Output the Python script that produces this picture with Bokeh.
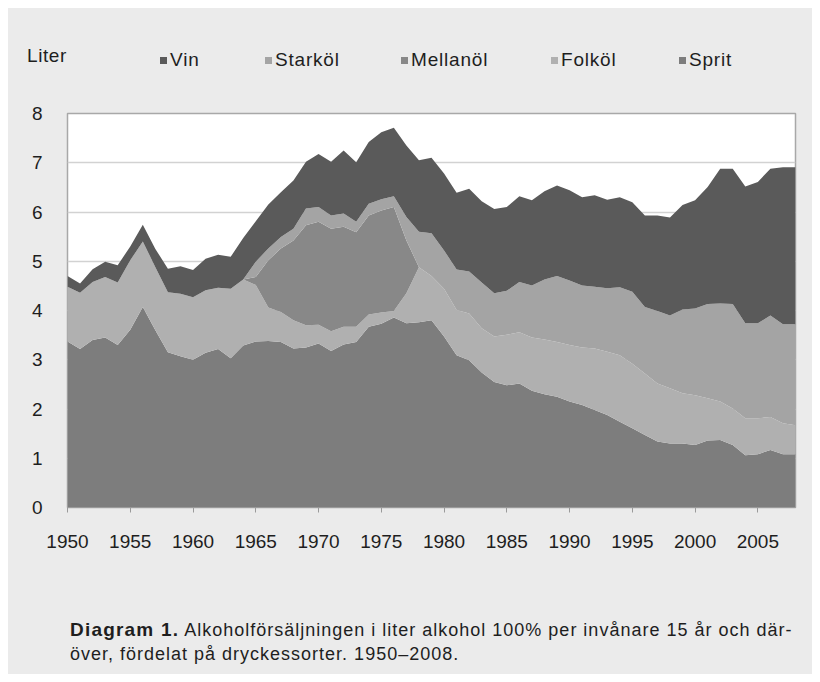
from bokeh.plotting import figure
from bokeh.models import ColumnDataSource, Range1d, FixedTicker, Div
from bokeh.layouts import column
from bokeh.embed import file_html
from bokeh.resources import INLINE

years = list(range(1950, 2009))

sprit = [3.37, 3.22, 3.40, 3.45, 3.30, 3.61, 4.07, 3.60, 3.15, 3.07,
         3.00, 3.14, 3.22, 3.03, 3.29, 3.37, 3.38, 3.36, 3.23, 3.25,
         3.33, 3.18, 3.31, 3.36, 3.67, 3.73, 3.86, 3.74, 3.76, 3.80,
         3.47, 3.09, 2.99, 2.74, 2.55, 2.48, 2.52, 2.37, 2.30, 2.25,
         2.15, 2.08, 1.98, 1.88, 1.74, 1.61, 1.47, 1.34, 1.30, 1.30,
         1.27, 1.36, 1.37, 1.27, 1.06, 1.08, 1.17, 1.08, 1.08]
folkol = [1.11, 1.14, 1.18, 1.23, 1.27, 1.41, 1.33, 1.28, 1.22, 1.27,
          1.27, 1.27, 1.24, 1.41, 1.34, 1.15, 0.68, 0.61, 0.57, 0.45,
          0.38, 0.40, 0.36, 0.31, 0.25, 0.23, 0.13, 0.61, 1.12, 0.90,
          0.97, 0.92, 0.95, 0.90, 0.92, 1.03, 1.04, 1.08, 1.11, 1.11,
          1.15, 1.17, 1.25, 1.28, 1.35, 1.31, 1.25, 1.18, 1.12, 1.02,
          1.01, 0.86, 0.78, 0.74, 0.75, 0.73, 0.67, 0.63, 0.59]
mellanol = [0, 0, 0, 0, 0, 0, 0, 0, 0, 0,
            0, 0, 0, 0, 0, 0.16, 0.96, 1.29, 1.62, 2.03,
            2.09, 2.08, 2.03, 1.92, 2.01, 2.07, 2.11, 1.07, 0, 0,
            0, 0, 0, 0, 0, 0, 0, 0, 0, 0,
            0, 0, 0, 0, 0, 0, 0, 0, 0, 0,
            0, 0, 0, 0, 0, 0, 0, 0, 0]
starkol = [0, 0, 0, 0, 0, 0, 0, 0, 0, 0,
           0, 0, 0, 0, 0, 0.31, 0.24, 0.23, 0.24, 0.34,
           0.30, 0.27, 0.27, 0.21, 0.24, 0.23, 0.22, 0.48, 0.72, 0.87,
           0.78, 0.82, 0.85, 0.93, 0.88, 0.89, 1.02, 1.06, 1.22, 1.34,
           1.31, 1.26, 1.25, 1.29, 1.38, 1.46, 1.35, 1.47, 1.48, 1.70,
           1.76, 1.91, 1.99, 2.12, 1.93, 1.93, 2.06, 2.01, 2.05]
vin = [0.22, 0.19, 0.26, 0.31, 0.35, 0.28, 0.34, 0.37, 0.48, 0.56,
       0.55, 0.64, 0.67, 0.65, 0.84, 0.82, 0.89, 0.91, 0.98, 0.95,
       1.08, 1.09, 1.28, 1.21, 1.25, 1.36, 1.39, 1.45, 1.45, 1.53,
       1.56, 1.56, 1.68, 1.65, 1.71, 1.70, 1.74, 1.73, 1.79, 1.84,
       1.83, 1.79, 1.86, 1.80, 1.83, 1.82, 1.86, 1.94, 1.99, 2.12,
       2.20, 2.38, 2.74, 2.75, 2.78, 2.87, 2.98, 3.19, 3.19]

series_keys = ["sprit", "folkol", "mellanol", "starkol", "vin"]
series_names = ["Sprit", "Folköl", "Mellanöl", "Starköl", "Vin"]
series_colors = ["#7d7d7d", "#b0b0b0", "#888888", "#a4a4a4", "#5a5a5a"]
legend_order = ["Vin", "Starköl", "Mellanöl", "Folköl", "Sprit"]
x_ticks = [1950, 1955, 1960, 1965, 1970, 1975, 1980, 1985, 1990, 1995, 2000, 2005]
y_ticks = [0, 1, 2, 3, 4, 5, 6, 7, 8]
unit_label = "Liter"
caption_bold = "Diagram 1."
caption_line1 = "Alkoholförsäljningen i liter alkohol 100% per invånare 15 år och där-"
caption_line2 = "över, fördelat på dryckessorter. 1950–2008."

BG = "#ebebeb"
FONT = "'Liberation Sans', Arial, sans-serif"
TXT = "#1e1e1e"
W = 804

# ---- header: unit label + legend (HTML text) ----
color_of = dict(zip(series_names, series_colors))
legend_left = [152, 257, 393, 543, 671]
parts = [f'<span style="position:absolute;left:19px;top:37px;line-height:22px;'
         f'font-size:19px;letter-spacing:0.6px;">{unit_label}</span>']
for name, lx in zip(legend_order, legend_left):
    parts.append(
        f'<span style="position:absolute;left:{lx}px;top:41px;height:22px;display:flex;'
        f'align-items:center;font-size:19px;letter-spacing:0.8px;white-space:nowrap;">'
        f'<span style="display:inline-block;width:7px;height:7px;background:{color_of[name]};'
        f'margin-right:3px;"></span>{name}</span>')
header_html = (f'<div style="position:relative;width:{W}px;height:80px;background:{BG};'
               f'font-family:{FONT};color:{TXT};">' + "".join(parts) + '</div>')
header = Div(text=header_html, width=W, height=80, margin=0,
             styles={"background-color": BG})

# ---- chart ----
source = ColumnDataSource(dict(year=years, sprit=sprit, folkol=folkol,
                               mellanol=mellanol, starkol=starkol, vin=vin))

p = figure(width=W, height=512, x_range=Range1d(1950, 2008), y_range=Range1d(0, 8),
           output_backend="svg", toolbar_location=None, margin=0,
           min_border_left=59, min_border_right=17, min_border_top=25, min_border_bottom=93)
p.background_fill_color = "white"
p.border_fill_color = BG
p.outline_line_color = "#a8a8a8"
p.outline_line_width = 1.5

p.varea_stack(stackers=series_keys, x="year", color=series_colors, source=source)

p.xgrid.visible = False
p.ygrid.grid_line_color = "#d2d2d2"
p.ygrid.grid_line_width = 1.5
p.ygrid.ticker = FixedTicker(ticks=y_ticks)

p.xaxis.ticker = FixedTicker(ticks=x_ticks)
p.xaxis.major_tick_in = 0
p.xaxis.major_tick_out = 5
p.xaxis.minor_tick_line_color = None
p.xaxis.axis_line_color = "#9a9a9a"
p.xaxis.major_tick_line_color = "#9a9a9a"
p.xaxis.major_label_standoff = 22
p.xaxis.major_label_text_font = "Liberation Sans"
p.xaxis.major_label_text_font_size = "19px"
p.xaxis.major_label_text_color = TXT

p.yaxis.ticker = FixedTicker(ticks=y_ticks)
p.yaxis.major_tick_in = 0
p.yaxis.major_tick_out = 0
p.yaxis.minor_tick_line_color = None
p.yaxis.axis_line_color = None
p.yaxis.major_label_standoff = 25
p.yaxis.major_label_text_font = "Liberation Sans"
p.yaxis.major_label_text_font_size = "19px"
p.yaxis.major_label_text_color = TXT

# ---- caption (HTML text) ----
caption_html = (
    f'<div style="position:relative;width:{W}px;height:74px;background:{BG};'
    f'font-family:{FONT};color:{TXT};font-size:18px;letter-spacing:1.0px;">'
    f'<span style="position:absolute;left:62px;top:20px;line-height:20px;white-space:nowrap;">'
    f'<b style="font-size:19px;letter-spacing:1.2px;">{caption_bold}</b> {caption_line1}</span>'
    f'<span style="position:absolute;left:62px;top:44px;line-height:20px;white-space:nowrap;">'
    f'{caption_line2}</span></div>')
caption = Div(text=caption_html, width=W, height=74, margin=0,
              styles={"background-color": BG})

layout = column(header, p, caption, spacing=0, margin=(8, 8, 8, 8),
                styles={"background-color": BG})
open("out.html", "w").write(file_html(layout, INLINE))
